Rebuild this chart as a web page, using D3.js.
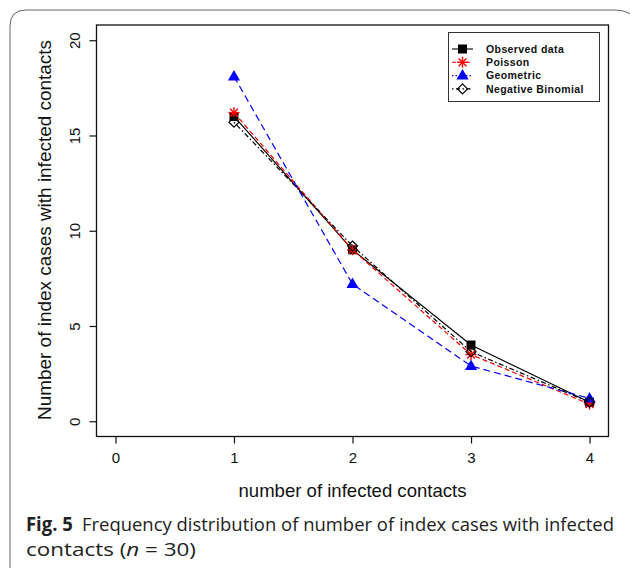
<!DOCTYPE html>
<html>
<head>
<meta charset="utf-8">
<title>Frequency distribution of infected contacts</title>
<style>
    body { margin: 0; background: #fff; }
</style>
<script src="https://cdn.jsdelivr.net/npm/d3@7/dist/d3.min.js"></script>
</head>
<body>
<script>

    // values
    var contacts = [1, 2, 3, 4]
    var observed = [16, 9, 4, 1]
    var poisson = [16.2, 9.0, 3.5, 0.9]
    var geometric = [18.1, 7.2, 2.9, 1.2]
    var negBinomial = [15.7, 9.2, 3.65, 1.0]
    var xTicks = [0, 1, 2, 3, 4]
    var yTicks = [0, 5, 10, 15, 20]
    var seriesNames = ['Observed data', 'Poisson', 'Geometric', 'Negative Binomial']

    var width = 630,
        height = 568,
        rFont = '"Liberation Sans", Arial, sans-serif',
        capFont = '"Open Sans", "Noto Sans", sans-serif'

    var svg = d3.select('body').append('svg')
        .attr('width', width)
        .attr('height', height)

    // frame of the figure panel (open at right and bottom)
    svg.append('path')
        .attr('d', 'M10,600 L10,26 Q10,10 26,10 L615,10 Q630,10 640,22')
        .attr('fill', 'none')
        .attr('stroke', '#666')
        .attr('stroke-width', 1)

    var plot = { left: 96.5, right: 608.5, top: 25, bottom: 436.5 }

    // R style 4% padding
    var x = d3.scaleLinear().domain([-0.16, 4.16]).range([plot.left, plot.right])
    var y = d3.scaleLinear().domain([-0.8, 20.8]).range([plot.bottom, plot.top])

    svg.append('rect')
        .attr('x', plot.left)
        .attr('y', plot.top)
        .attr('width', plot.right - plot.left)
        .attr('height', plot.bottom - plot.top)
        .attr('fill', 'none')
        .attr('stroke', '#111')
        .attr('stroke-width', 1.3)

    var xAxis = svg.append('g')
        .attr('transform', 'translate(0,' + plot.bottom + ')')
        .call(d3.axisBottom(x).tickValues(xTicks).tickSize(7).tickPadding(9).tickFormat(d3.format('d')))
    xAxis.select('.domain').remove()
    xAxis.selectAll('line').attr('stroke', '#111').attr('stroke-width', 1.2)
    xAxis.selectAll('text').attr('font-size', 15).attr('fill', '#111')
        .attr('font-family', rFont)

    var yAxis = svg.append('g')
        .attr('transform', 'translate(' + plot.left + ',0)')
        .call(d3.axisLeft(y).tickValues(yTicks).tickSize(7).tickFormat(d3.format('d')))
    yAxis.select('.domain').remove()
    yAxis.selectAll('line').attr('stroke', '#111').attr('stroke-width', 1.2)
    yAxis.selectAll('text')
        .attr('font-size', 15).attr('fill', '#111')
        .attr('font-family', rFont)
        .attr('x', null).attr('dy', null)
        .attr('text-anchor', 'middle')
        .attr('transform', 'translate(-22,0) rotate(-90)')
        .attr('y', 5)

    svg.append('text')
        .attr('x', (plot.left + plot.right) / 2)
        .attr('y', 497)
        .attr('text-anchor', 'middle')
        .attr('font-family', rFont)
        .attr('font-size', 18.5)
        .attr('fill', '#111')
        .attr('textLength', 228)
        .attr('lengthAdjust', 'spacingAndGlyphs')
        .text('number of infected contacts')

    svg.append('text')
        .attr('transform', 'translate(51,230) rotate(-90)')
        .attr('text-anchor', 'middle')
        .attr('font-family', rFont)
        .attr('font-size', 18.5)
        .attr('fill', '#111')
        .attr('textLength', 380)
        .attr('lengthAdjust', 'spacingAndGlyphs')
        .text('Number of index cases with infected contacts')

    var styles = [
        { values: observed, color: '#000', dash: null, legendDash: null, marker: 'square' },
        { values: poisson, color: '#ff0000', dash: '5,3', legendDash: '4,3', marker: 'star' },
        { values: geometric, color: '#0000ff', dash: '7,4', legendDash: '1.5,2', marker: 'triangle' },
        { values: negBinomial, color: '#000', dash: '1.5,2.5,5,2.5', legendDash: '1.5,2.5,4,2.5', marker: 'diamond' }
    ]

    function drawMarker(g, kind, cx, cy, color) {
        if (kind === 'square') {
            g.append('rect').attr('x', cx - 4.5).attr('y', cy - 4.5)
                .attr('width', 9).attr('height', 9).attr('fill', color)
        } else if (kind === 'star') {
            var r = 5.5
            for (var a = 0; a < 4; a++) {
                var ang = a * Math.PI / 4
                g.append('line')
                    .attr('x1', cx - r * Math.cos(ang)).attr('y1', cy - r * Math.sin(ang))
                    .attr('x2', cx + r * Math.cos(ang)).attr('y2', cy + r * Math.sin(ang))
                    .attr('stroke', color).attr('stroke-width', 1.4)
            }
        } else if (kind === 'triangle') {
            g.append('path')
                .attr('d', d3.symbol(d3.symbolTriangle, 64)())
                .attr('transform', 'translate(' + cx + ',' + (cy + 0.5) + ')')
                .attr('fill', color)
        } else if (kind === 'diamond') {
            g.append('path')
                .attr('d', 'M' + cx + ',' + (cy - 5) + 'L' + (cx + 5) + ',' + cy + 'L' + cx + ',' + (cy + 5) + 'L' + (cx - 5) + ',' + cy + 'Z')
                .attr('fill', 'none').attr('stroke', color).attr('stroke-width', 1.2)
        }
    }

    var line = d3.line()
        .x(function (d, i) { return x(contacts[i]) })
        .y(function (d) { return y(d) })

    styles.forEach(function (s) {
        var g = svg.append('g')
        g.append('path')
            .attr('d', line(s.values))
            .attr('fill', 'none')
            .attr('stroke', s.color)
            .attr('stroke-width', 1.2)
            .attr('stroke-dasharray', s.dash)
        s.values.forEach(function (v, i) {
            drawMarker(g, s.marker, x(contacts[i]), y(v), s.color)
        })
    })

    // legend
    var legend = svg.append('g')
    legend.append('rect')
        .attr('x', 448.5).attr('y', 32.5)
        .attr('width', 151).attr('height', 69)
        .attr('fill', '#fff')
        .attr('stroke', '#333')
        .attr('stroke-width', 1)

    styles.forEach(function (s, i) {
        var ly = 49 + i * 13.3
        legend.append('line')
            .attr('x1', 452).attr('x2', 473)
            .attr('y1', ly).attr('y2', ly)
            .attr('stroke', s.color)
            .attr('stroke-width', 1.1)
            .attr('stroke-dasharray', s.legendDash)
        drawMarker(legend, s.marker, 462.5, ly, s.color)
        legend.append('text')
            .attr('x', 486)
            .attr('y', ly + 3.8)
            .attr('font-family', rFont)
            .attr('font-size', 10.5)
            .attr('font-weight', 'bold')
            .attr('letter-spacing', 0.4)
            .attr('fill', '#111')
            .text(seriesNames[i])
    })

    // caption
    var cap = svg.append('text')
        .attr('x', 26)
        .attr('y', 531)
        .attr('font-size', 19)
        .attr('fill', '#222')
        .attr('font-family', capFont)
        .attr('textLength', 588)
        .attr('lengthAdjust', 'spacingAndGlyphs')
    cap.append('tspan').attr('font-weight', 'bold').text('Fig. 5')
    cap.append('tspan').text('\u2002Frequency distribution of number of index cases with infected')

    var cap2 = svg.append('text')
        .attr('x', 26)
        .attr('y', 556)
        .attr('font-size', 19)
        .attr('fill', '#222')
        .attr('font-family', capFont)
        .attr('textLength', 170)
        .attr('lengthAdjust', 'spacingAndGlyphs')
    cap2.append('tspan').text('contacts (')
    cap2.append('tspan').attr('font-style', 'italic').text('n')
    cap2.append('tspan').text(' = 30)')

</script>
</body>
</html>
